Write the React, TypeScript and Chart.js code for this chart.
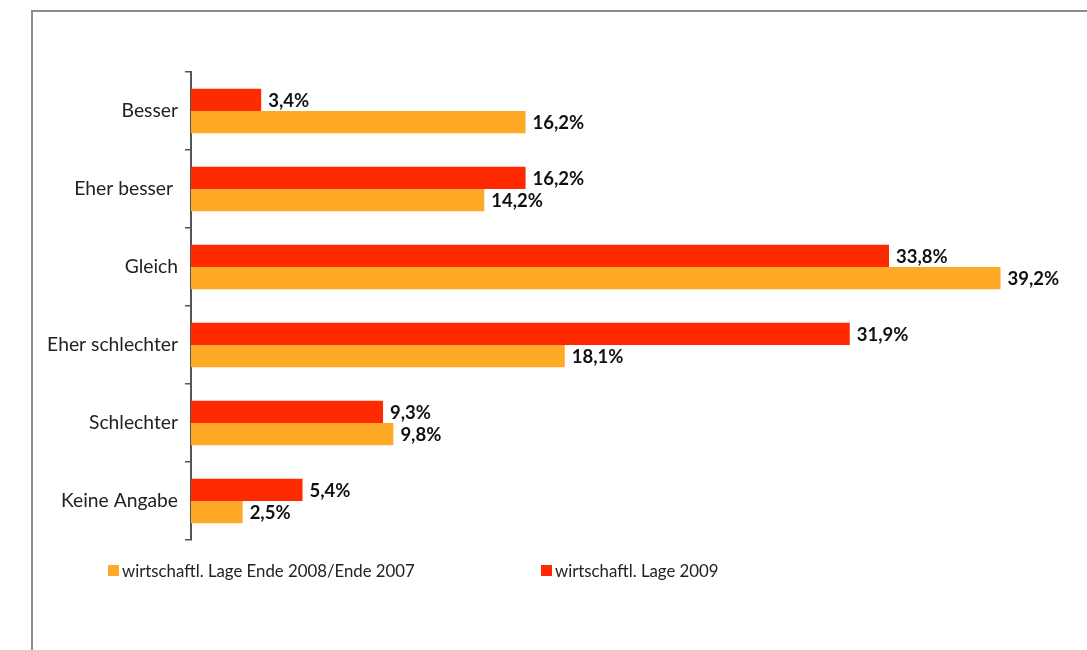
import React, { useEffect, useRef } from "react";
import { Chart, registerables } from "chart.js";

Chart.register(...registerables);

const categories = ["Besser", "Eher besser ", "Gleich", "Eher schlechter", "Schlechter", "Keine Angabe"];
const series2009 = [3.4, 16.2, 33.8, 31.9, 9.3, 5.4];
const series2008 = [16.2, 14.2, 39.2, 18.1, 9.8, 2.5];
const label2009 = "wirtschaftl. Lage 2009";
const label2008 = "wirtschaftl. Lage Ende 2008/Ende 2007";

const RED = "#FF2A00";
const ORANGE = "#FFAA26";
const FONT = "Lato, 'Open Sans', sans-serif";

const valueLabels = {
  id: "valueLabels",
  afterDatasetsDraw(chart: any) {
    const ctx = chart.ctx;
    ctx.save();
    ctx.font = `bold 18.5px ${FONT}`;
    ctx.fillStyle = "#111";
    ctx.textAlign = "left";
    ctx.textBaseline = "middle";
    chart.data.datasets.forEach((ds: any, di: number) => {
      const meta = chart.getDatasetMeta(di);
      meta.data.forEach((el: any, i: number) => {
        const v = ds.data[i] as number;
        const txt = v.toFixed(1).replace(".", ",") + "%";
        ctx.fillText(txt, el.x + 7, el.y + 1);
      });
    });
    ctx.restore();
  },
};

export default function App() {
  const ref = useRef<HTMLCanvasElement | null>(null);

  useEffect(() => {
    if (!ref.current) return;
    const chart = new Chart(ref.current, {
      type: "bar",
      data: {
        labels: categories,
        datasets: [
          { label: label2009, data: series2009, backgroundColor: RED, borderWidth: 0 },
          { label: label2008, data: series2008, backgroundColor: ORANGE, borderWidth: 0 },
        ],
      },
      options: {
        indexAxis: "y",
        responsive: false,
        animation: false,
        devicePixelRatio: 1,
        categoryPercentage: 0.573,
        barPercentage: 1,
        layout: { padding: { top: 72, bottom: 110, left: 0, right: 8 } },
        plugins: {
          legend: { display: false },
          tooltip: { enabled: false },
        },
        scales: {
          x: { display: false, min: 0, max: 43 },
          y: {
            position: "left",
            afterFit(scale: any) {
              scale.width = 191;
            },
            grid: {
              display: true,
              drawOnChartArea: false,
              drawTicks: true,
              tickLength: 6,
              color: "#555",
              lineWidth: 1.5,
              offset: true,
            },
            border: { display: true, color: "#555", width: 2 },
            ticks: {
              color: "#222",
              padding: 7,
              font: { family: FONT, size: 19.3 },
            },
          },
        },
      } as any,
      plugins: [valueLabels],
    });
    return () => chart.destroy();
  }, []);

  const legendItem = (left: number, color: string, text: string) => (
    <div
      style={{
        position: "absolute",
        left,
        top: 559,
        display: "flex",
        alignItems: "center",
        fontFamily: FONT,
        fontSize: 16.8,
        color: "#222",
        whiteSpace: "nowrap",
        height: 22,
      }}
    >
      <span style={{ display: "inline-block", width: 11, height: 11, background: color, marginRight: 3 }} />
      <span>{text}</span>
    </div>
  );

  return (
    <div
      style={{
        position: "fixed",
        left: 0,
        top: 0,
        width: 1087,
        height: 650,
        overflow: "hidden",
        background: "#fff",
      }}
    >
      <div
        style={{
          position: "absolute",
          left: 31,
          top: 10,
          width: 2000,
          height: 2000,
          borderLeft: "2px solid #8c8c8c",
          borderTop: "2px solid #8c8c8c",
        }}
      />
      <canvas ref={ref} width={1087} height={650} style={{ position: "absolute", left: 0, top: 0, width: 1087, height: 650 }} />
      {legendItem(108, ORANGE, label2008)}
      {legendItem(541, RED, label2009)}
    </div>
  );
}
